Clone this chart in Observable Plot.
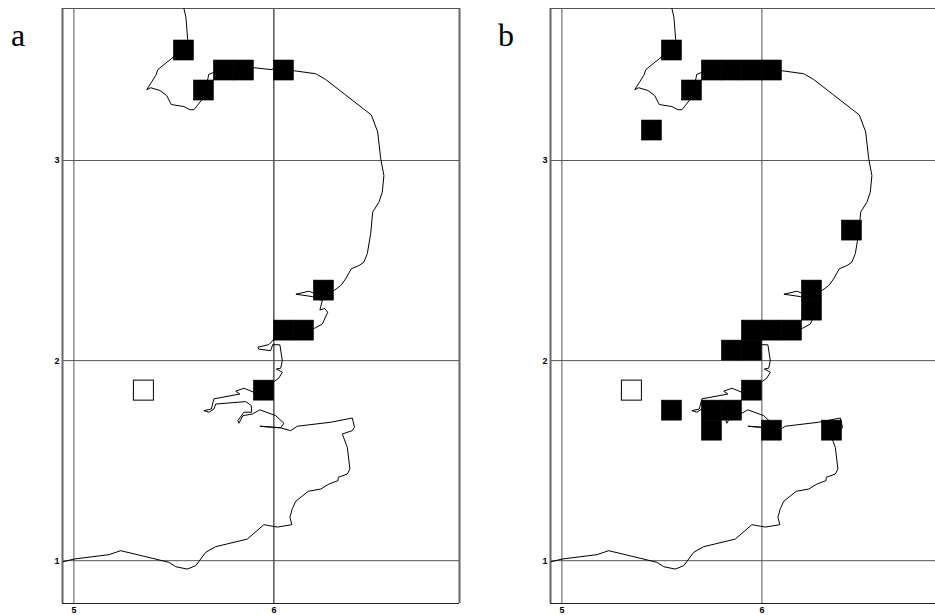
<!DOCTYPE html>
<html>
<head>
<meta charset="utf-8">
<script src="https://cdn.jsdelivr.net/npm/d3@7"></script>
<script src="https://cdn.jsdelivr.net/npm/@observablehq/plot@0.6"></script>
<style>
html,body{margin:0;padding:0;background:#fff;overflow:hidden;width:935px;height:615px}
#stage{position:relative;width:935px;height:615px}
#stage svg{position:absolute;top:0;display:block}
.tag{position:absolute;top:19px;font:32px/1 "Liberation Serif",serif;color:#000}
</style>
</head>
<body>
<div id="stage"></div>
<script>
const coastLon = [5.550,5.560,5.569,5.497,5.420,5.409,5.364,5.384,5.430,5.464,5.487,5.550,5.580,5.600,5.640,5.670,5.674,5.697,5.900,5.992,6.000,6.100,6.209,6.259,6.487,6.519,6.534,6.550,6.542,6.525,6.494,6.484,6.467,6.450,6.425,6.387,6.359,6.334,6.300,6.200,6.175,6.110,6.192,6.242,6.230,6.254,6.269,6.242,6.204,5.997,5.975,5.920,5.925,5.984,5.994,6.030,6.042,6.034,6.012,6.042,6.025,6.004,5.899,5.850,5.809,5.830,5.700,5.687,5.650,5.675,5.700,5.709,5.859,5.887,5.889,5.850,5.820,5.825,5.845,5.892,5.930,6.009,6.050,6.034,5.930,6.034,6.084,6.117,6.284,6.392,6.403,6.392,6.342,6.367,6.380,6.367,6.322,6.320,6.275,6.234,6.172,6.109,6.092,6.080,6.090,6.017,5.950,5.867,5.709,5.659,5.609,5.567,5.509,5.475,5.234,5.175,5.000,4.947];
const coastLat = [3.760,3.717,3.605,3.517,3.455,3.425,3.354,3.364,3.350,3.325,3.280,3.270,3.254,3.254,3.304,3.409,3.430,3.440,3.464,3.454,3.467,3.449,3.434,3.405,3.228,3.143,3.010,2.925,2.842,2.792,2.742,2.635,2.535,2.492,2.475,2.459,2.409,2.375,2.350,2.337,2.347,2.332,2.320,2.300,2.253,2.260,2.242,2.183,2.162,2.104,2.080,2.067,2.057,2.050,2.080,2.079,2.000,1.962,1.958,1.942,1.913,1.897,1.842,1.862,1.847,1.833,1.809,1.758,1.750,1.742,1.758,1.783,1.795,1.775,1.742,1.742,1.700,1.687,1.725,1.733,1.754,1.725,1.687,1.664,1.672,1.664,1.650,1.672,1.692,1.713,1.667,1.650,1.633,1.567,1.458,1.433,1.417,1.400,1.383,1.358,1.347,1.297,1.260,1.217,1.180,1.168,1.180,1.108,1.070,1.042,0.975,0.958,0.970,0.992,1.050,1.030,1.008,0.995];

const aLon = [5.5,5.7,5.8,5.6,6.0,6.2,6.0,6.1,5.9];
const aLat = [3.5,3.4,3.4,3.3,3.4,2.3,2.1,2.1,1.8];
const bLon = [5.5,5.7,5.8,5.9,6.0,5.6,5.4,6.4,6.2,6.2,5.9,6.0,6.1,5.8,5.9,5.9,5.5,5.7,5.8,5.7,6.0,6.3];
const bLat = [3.5,3.4,3.4,3.4,3.4,3.3,3.1,2.6,2.3,2.2,2.1,2.1,2.1,2.0,2.0,1.8,1.7,1.7,1.7,1.6,1.6,1.6];
const openLon = [5.3];
const openLat = [1.8];

const xTicks = [5, 6];
const yTicks = [1, 2, 3];
const cell = 0.1;
const xMin = 4.943, xMaxA = 6.928, xMaxB = 6.868;
const yMin = 0.786, yMax = 3.76;

function toCells(lons, lats) {
  return lons.map((lon, i) => ({x1: lon, x2: lon + cell, y1: lats[i], y2: lats[i] + cell}));
}
const coast = coastLon.map((lon, i) => ({lon, lat: coastLat[i]}));

function panel(lons, lats, xMax, closeRight, width, marginRight) {
  const grid = "#555";
  return Plot.plot({
    width, height: 615,
    marginLeft: 62, marginRight, marginTop: 8, marginBottom: 12,
    style: {background: "transparent", fontFamily: "'Liberation Sans',Arial,sans-serif", fontWeight: "bold", fontSize: "9px", color: "#000"},
    x: {domain: [xMin, xMax], label: null},
    y: {domain: [yMin, yMax], label: null},
    marks: [
      Plot.ruleX(xTicks, {stroke: d => (closeRight && d === 6) ? "#000" : grid, strokeWidth: 1}),
      Plot.ruleY(yTicks, {stroke: grid, strokeWidth: 1}),
      Plot.ruleX(closeRight ? [xMin, xMax] : [xMin], {stroke: "#666", strokeWidth: 2}),
      Plot.ruleY([yMin], {stroke: "#222", strokeWidth: 1}),
      Plot.ruleY([yMax], {stroke: grid, strokeWidth: 1}),
      Plot.line(coast, {x: "lon", y: "lat", stroke: "#000", strokeWidth: 1, curve: "linear"}),
      Plot.rect(toCells(openLon, openLat), {x1: "x1", x2: "x2", y1: "y1", y2: "y2", fill: "#fff", stroke: "#000", strokeWidth: 1, inset: 0}),
      Plot.rect(toCells(lons, lats), {x1: "x1", x2: "x2", y1: "y1", y2: "y2", fill: "#000", stroke: "#000", strokeWidth: 0.6, inset: 0}),
      Plot.axisX(xTicks, {tickSize: 0, tickPadding: 3, label: null, tickFormat: d => String(d), anchor: "bottom"}),
      Plot.axisY(yTicks, {tickSize: 0, tickPadding: 3, label: null, tickFormat: d => String(d), anchor: "left"})
    ]
  });
}

const stage = document.getElementById("stage");
const left = panel(aLon, aLat, xMaxA, true, 470, 11);
left.style.left = "0px";
const right = panel(bLon, bLat, xMaxB, false, 447, 0);
right.style.left = "488px";
stage.append(left, right);

[["a", 11], ["b", 498]].forEach(([t, x]) => {
  const d = document.createElement("div");
  d.className = "tag";
  d.textContent = t;
  d.style.left = x + "px";
  stage.append(d);
});
</script>
</body>
</html>
